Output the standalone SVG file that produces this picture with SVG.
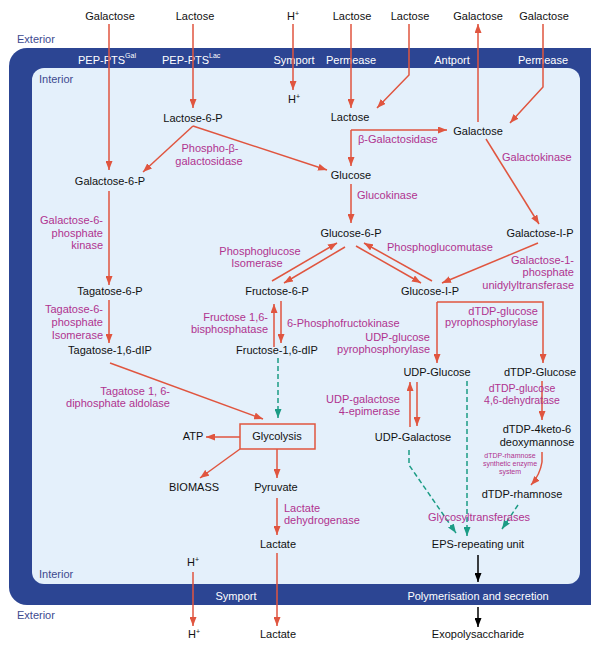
<svg xmlns="http://www.w3.org/2000/svg" width="591" height="646" viewBox="0 0 591 646">
<style>
text{font-family:"Liberation Sans",Arial,sans-serif;font-size:11px;fill:#111}
.e{fill:#b0338f}
.w{fill:#fff}
.z{fill:#3d4a8f}
.s{font-size:7px}
.sm{font-size:7px;fill:#b0338f}
.m{text-anchor:middle}
.r{text-anchor:end}
.red{fill:none;stroke:#e0553f;stroke-width:1.5;marker-end:url(#ar)}
.teal{fill:none;stroke:#1b9c85;stroke-width:1.5;stroke-dasharray:5 3;marker-end:url(#at)}
.blk{fill:none;stroke:#000;stroke-width:1.5;marker-end:url(#ab)}
</style>
<defs>
<marker id="ar" markerUnits="userSpaceOnUse" markerWidth="9" markerHeight="7" refX="9" refY="3.5" orient="auto"><path d="M0,0 L9,3.5 L0,7 z" fill="#e0553f"/></marker>
<marker id="at" markerUnits="userSpaceOnUse" markerWidth="9" markerHeight="7" refX="9" refY="3.5" orient="auto"><path d="M0,0 L9,3.5 L0,7 z" fill="#1b9c85"/></marker>
<marker id="ab" markerUnits="userSpaceOnUse" markerWidth="9" markerHeight="7" refX="9" refY="3.5" orient="auto"><path d="M0,0 L9,3.5 L0,7 z" fill="#000"/></marker>
</defs>
<rect width="591" height="646" fill="#fff"/>
<g id="membrane">
<rect x="9" y="48" width="610" height="557" rx="18" fill="#2c4593"/>
<rect x="32" y="68" width="548" height="516" rx="12" fill="#e4f0fb"/>
</g>
<g id="zones">
<text class="z" x="17" y="43">Exterior</text>
<text class="z" x="39" y="83">Interior</text>
<text class="z" x="39" y="578">Interior</text>
<text class="z" x="17" y="619">Exterior</text>
</g>
<g id="transporters">
<text class="w" x="78" y="64">PEP-PTS<tspan class="w s" dy="-6">Gal</tspan></text>
<text class="w" x="162" y="64">PEP-PTS<tspan class="w s" dy="-6">Lac</tspan></text>
<text class="w m" x="294" y="64">Symport</text>
<text class="w m" x="351" y="64">Permease</text>
<text class="w m" x="452" y="64">Antport</text>
<text class="w m" x="543" y="64">Permease</text>
<text class="w m" x="236" y="600">Symport</text>
<text class="w m" x="478" y="600">Polymerisation and secretion</text>
</g>
<g id="connectors">
<path class="red" d="M109,24 V170"/>
<path class="red" d="M193,24 V108"/>
<path class="red" d="M293,24 V90"/>
<path class="red" d="M351,24 V108"/>
<path class="red" d="M409,24 V75 L377,108"/>
<path class="red" d="M478,122 V24"/>
<path class="red" d="M543,24 V87 L510,123"/>
<path class="red" d="M351,130 V166"/>
<path class="red" d="M351,130 H447"/>
<path class="red" d="M193,126 L143,172"/>
<path class="red" d="M193,126 L327,170"/>
<path class="red" d="M486,139 L539,224"/>
<path class="red" d="M351,184 V223"/>
<path class="red" d="M109,191 V285"/>
<path class="red" d="M272,281 L337,243"/>
<path class="red" d="M345,247 L284,283"/>
<path class="red" d="M356,246 L421,283"/>
<path class="red" d="M432,281 L364,243"/>
<path class="red" d="M538,243 L442,283"/>
<path class="red" d="M109,300 V343"/>
<path class="red" d="M274,347 V304"/>
<path class="red" d="M281,301 V343"/>
<path class="teal" d="M278,358 V418"/>
<path class="red" d="M110,363 L263,419"/>
<path class="red" d="M437,302 V363"/>
<path class="red" d="M437,302 H543 V363"/>
<path class="red" d="M410,427 V382"/>
<path class="red" d="M417,382 V426"/>
<path class="teal" d="M467,381 V536"/>
<path class="teal" d="M409,450 V465 L456,533"/>
<path class="red" d="M542,381 V420"/>
<path class="red" d="M542,452 V462 Q540,475 531,485"/>
<path class="teal" d="M518,505 L502,529"/>
<path class="red" d="M240,437 H206"/>
<path class="red" d="M240,449 L200,478"/>
<path class="red" d="M277,449 V478"/>
<path class="red" d="M277,498 V535"/>
<path class="red" d="M277,553 V626"/>
<path class="red" d="M193,572 V626"/>
<path class="blk" d="M478,555 V582"/>
<path class="blk" d="M478,607 V627"/>
</g>
<g id="n-ext-galactose1"><text class="m" x="110" y="20">Galactose</text></g>
<g id="n-ext-lactose1"><text class="m" x="195" y="20">Lactose</text></g>
<g id="n-ext-h1"><text class="m" x="293" y="20">H<tspan class="s" dy="-4">+</tspan></text></g>
<g id="n-ext-lactose2"><text class="m" x="352" y="20">Lactose</text></g>
<g id="n-ext-lactose3"><text class="m" x="410" y="20">Lactose</text></g>
<g id="n-ext-galactose2"><text class="m" x="478" y="20">Galactose</text></g>
<g id="n-ext-galactose3"><text class="m" x="544" y="20">Galactose</text></g>
<g id="n-h-in"><text class="m" x="294" y="103">H<tspan class="s" dy="-4">+</tspan></text></g>
<g id="n-lactose6p"><text class="m" x="193" y="122">Lactose-6-P</text></g>
<g id="n-lactose"><text class="m" x="350" y="121">Lactose</text></g>
<g id="n-galactose"><text class="m" x="478" y="135">Galactose</text></g>
<g id="e-bgal"><text class="e" x="358" y="143">β-Galactosidase</text></g>
<g id="e-pbgal"><text class="e m" x="210" y="152">Phospho-β-</text><text class="e m" x="209" y="165">galactosidase</text></g>
<g id="n-galactose6p"><text class="m" x="110" y="185">Galactose-6-P</text></g>
<g id="n-glucose"><text class="m" x="351" y="179">Glucose</text></g>
<g id="e-galactokinase"><text class="e" x="502" y="161">Galactokinase</text></g>
<g id="e-glucokinase"><text class="e" x="357" y="199">Glucokinase</text></g>
<g id="e-gal6pk"><text class="e r" x="103" y="224">Galactose-6-</text><text class="e r" x="103" y="237">phosphate</text><text class="e r" x="103" y="249">kinase</text></g>
<g id="n-glucose6p"><text class="m" x="351" y="237">Glucose-6-P</text></g>
<g id="n-galactose1p"><text class="m" x="540" y="237">Galactose-I-P</text></g>
<g id="e-pgm"><text class="e" x="387" y="251">Phosphoglucomutase</text></g>
<g id="e-galut"><text class="e r" x="574" y="264">Galactose-1-</text><text class="e r" x="574" y="276">phosphate</text><text class="e r" x="574" y="289">unidylyltransferase</text></g>
<g id="e-pgi"><text class="e m" x="260" y="255">Phosphoglucose</text><text class="e m" x="257" y="267">Isomerase</text></g>
<g id="n-fructose6p"><text class="m" x="277" y="295">Fructose-6-P</text></g>
<g id="n-glucose1p"><text class="m" x="430" y="295">Glucose-I-P</text></g>
<g id="n-tagatose6p"><text class="m" x="110" y="295">Tagatose-6-P</text></g>
<g id="e-t6pi"><text class="e r" x="103" y="313">Tagatose-6-</text><text class="e r" x="103" y="326">phosphate</text><text class="e r" x="103" y="339">Isomerase</text></g>
<g id="e-fbpase"><text class="e r" x="268" y="321">Fructose 1,6-</text><text class="e r" x="268" y="333">bisphosphatase</text></g>
<g id="e-pfk"><text class="e" x="287" y="327">6-Phosphofructokinase</text></g>
<g id="e-udpgp"><text class="e r" x="430" y="341">UDP-glucose</text><text class="e r" x="430" y="353">pyrophosphorylase</text></g>
<g id="e-dtdpgp"><text class="e r" x="538" y="315">dTDP-glucose</text><text class="e r" x="538" y="326">pyrophosphorylase</text></g>
<g id="n-tagatose16dip"><text class="m" x="110" y="354">Tagatose-1,6-dIP</text></g>
<g id="n-fructose16dip"><text class="m" x="277" y="354">Fructose-1,6-dIP</text></g>
<g id="n-udpglucose"><text class="m" x="437" y="376">UDP-Glucose</text></g>
<g id="n-dtdpglucose"><text class="m" x="540" y="376">dTDP-Glucose</text></g>
<g id="e-dtdpgd"><text class="e m" x="522" y="392" style="font-size:10.5px">dTDP-glucose</text><text class="e m" x="522" y="404" style="font-size:10.5px">4,6-dehydratase</text></g>
<g id="e-udpge"><text class="e r" x="400" y="403">UDP-galactose</text><text class="e r" x="400" y="415">4-epimerase</text></g>
<g id="e-t16da"><text class="e r" x="170" y="395">Tagatose 1, 6-</text><text class="e r" x="170" y="407">diphosphate aldolase</text></g>
<g id="n-atp"><text class="m" x="193" y="440">ATP</text></g>
<g id="n-glycolysis"><rect x="240" y="424" width="75" height="25" fill="none" stroke="#e0553f" stroke-width="1.5"/><text class="m" x="277" y="440">Glycolysis</text></g>
<g id="n-udpgalactose"><text class="m" x="413" y="441">UDP-Galactose</text></g>
<g id="n-dtdp4keto"><text class="m" x="537" y="433">dTDP-4keto-6</text><text class="m" x="537" y="446">deoxymannose</text></g>
<g id="e-dtdprs"><text class="sm m" x="510" y="458">dTDP-rhamnose</text><text class="sm m" x="510" y="466">synthetic enzyme</text><text class="sm m" x="510" y="474">system</text></g>
<g id="n-biomass"><text class="m" x="194" y="491">BIOMASS</text></g>
<g id="n-pyruvate"><text class="m" x="276" y="491">Pyruvate</text></g>
<g id="n-dtdprhamnose"><text class="m" x="522" y="498">dTDP-rhamnose</text></g>
<g id="e-ldh"><text class="e" x="284" y="512">Lactate</text><text class="e" x="284" y="524">dehydrogenase</text></g>
<g id="e-gt"><text class="e m" x="479" y="521">Glycosyltransferases</text></g>
<g id="n-eps"><text class="m" x="478" y="548">EPS-repeating unit</text></g>
<g id="n-lactate-in"><text class="m" x="278" y="548">Lactate</text></g>
<g id="n-h-in2"><text class="m" x="193" y="566">H<tspan class="s" dy="-4">+</tspan></text></g>
<g id="n-h-out"><text class="m" x="194" y="638">H<tspan class="s" dy="-4">+</tspan></text></g>
<g id="n-lactate-out"><text class="m" x="278" y="638">Lactate</text></g>
<g id="n-exopolysaccharide"><text class="m" x="478" y="638">Exopolysaccharide</text></g>
</svg>
